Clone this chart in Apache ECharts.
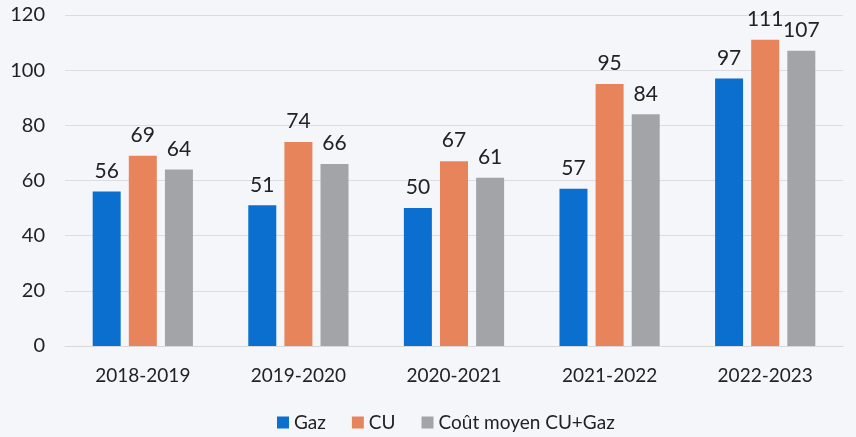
<!DOCTYPE html>
<html>
<head>
<meta charset="utf-8">
<script src="https://cdn.jsdelivr.net/npm/echarts@6/dist/echarts.min.js"></script>
<style>
html,body{margin:0;padding:0;background:#f4f6f9;}
#main{width:856px;height:437px;}
</style>
</head>
<body>
<div id="main"></div>
<script>
var categories = ['2018-2019', '2019-2020', '2020-2021', '2021-2022', '2022-2023'];
var gaz = [56, 51, 50, 57, 97];
var cu = [69, 74, 67, 95, 111];
var coutMoyen = [64, 66, 61, 84, 107];

var fontName = 'Lato, "Open Sans", sans-serif';
var labelStyle = {
    show: true,
    position: 'top',
    distance: 10,
    fontSize: 21,
    color: '#222',
    fontFamily: fontName
};

var option = {
    backgroundColor: '#f4f6f9',
    animation: false,
    grid: {
        left: 65,
        right: 13,
        top: 15,
        bottom: 91
    },
    legend: {
        bottom: 0,
        left: 272,
        itemWidth: 12,
        itemHeight: 12,
        itemGap: 26,
        icon: 'rect',
        textStyle: {
            fontSize: 19,
            color: '#222',
            fontFamily: fontName
        },
        data: ['Gaz', 'CU', 'Coût moyen CU+Gaz']
    },
    xAxis: {
        type: 'category',
        data: categories,
        axisTick: { show: false },
        axisLine: { lineStyle: { color: '#d8d8d8' } },
        axisLabel: {
            fontSize: 19,
            color: '#222',
            margin: 20,
            fontFamily: fontName
        }
    },
    yAxis: {
        type: 'value',
        min: 0,
        max: 120,
        interval: 20,
        axisLabel: {
            fontSize: 20,
            color: '#222',
            margin: 20,
            fontFamily: fontName
        },
        splitLine: { lineStyle: { color: '#dcdde0' } }
    },
    series: [{
        name: 'Gaz',
        type: 'bar',
        data: gaz,
        barWidth: 28,
        barGap: '29%',
        barCategoryGap: '35%',
        itemStyle: { color: '#0a6fcf' },
        label: labelStyle
    }, {
        name: 'CU',
        type: 'bar',
        data: cu,
        barWidth: 28,
        barGap: '29%',
        itemStyle: { color: '#e8845c' },
        label: labelStyle
    }, {
        name: 'Coût moyen CU+Gaz',
        type: 'bar',
        data: coutMoyen,
        barWidth: 28,
        barGap: '29%',
        itemStyle: { color: '#a3a4a8' },
        label: labelStyle
    }]
};

var chart = echarts.init(document.getElementById('main'));
chart.setOption(option);
</script>
</body>
</html>
